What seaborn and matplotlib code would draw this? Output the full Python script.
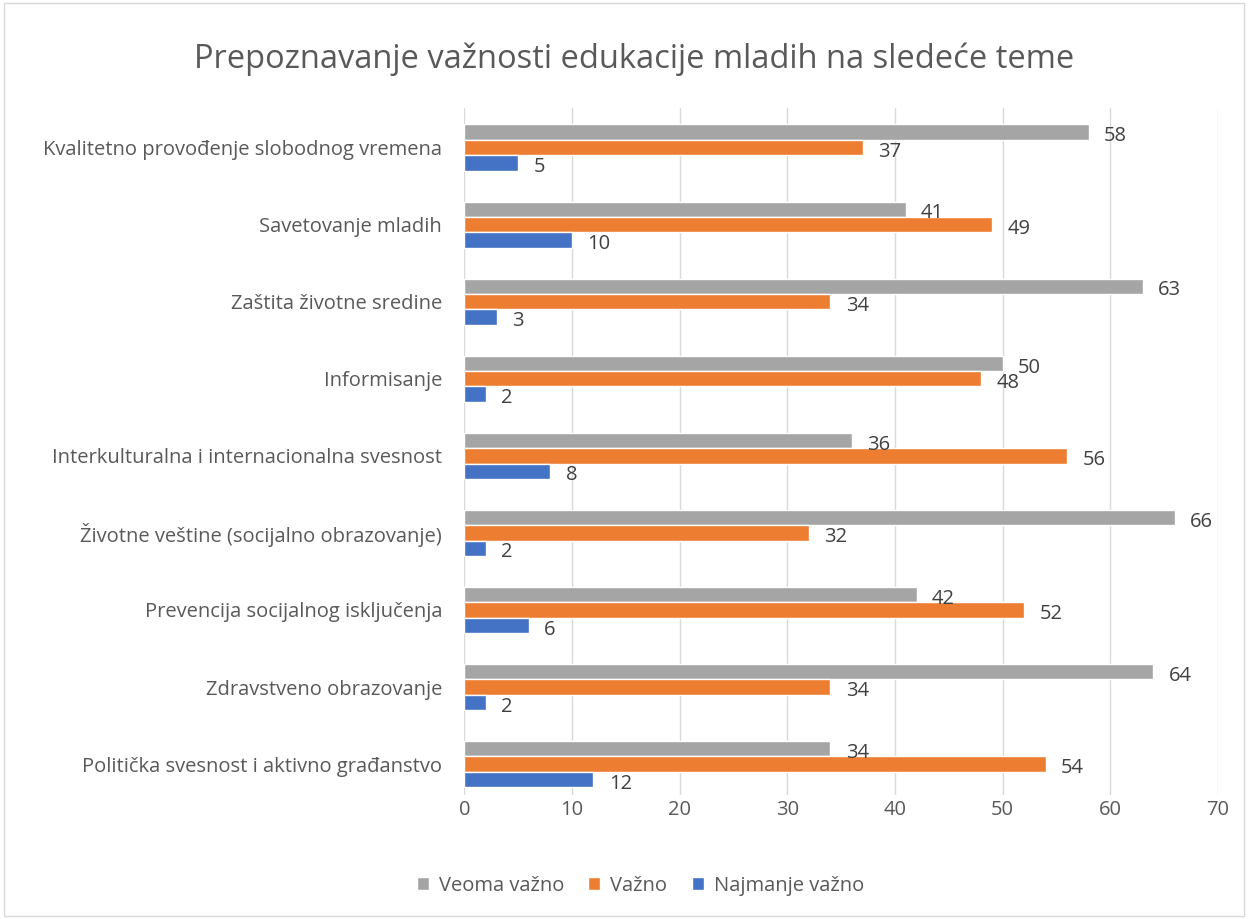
import pandas as pd
import seaborn as sns
import matplotlib.pyplot as plt

categories = [
    "Kvalitetno provođenje slobodnog vremena",
    "Savetovanje mladih",
    "Zaštita životne sredine",
    "Informisanje",
    "Interkulturalna i internacionalna svesnost",
    "Životne veštine (socijalno obrazovanje)",
    "Prevencija socijalnog isključenja",
    "Zdravstveno obrazovanje",
    "Politička svesnost i aktivno građanstvo",
]
veoma_vazno = [58, 41, 63, 50, 36, 66, 42, 64, 34]
vazno = [37, 49, 34, 48, 56, 32, 52, 34, 54]
najmanje_vazno = [5, 10, 3, 2, 8, 2, 6, 2, 12]

series = ["Veoma važno", "Važno", "Najmanje važno"]
colors = ["#A5A5A5", "#ED7D31", "#4472C4"]


def build_df():
    rows = []
    for name, vals in zip(series, [veoma_vazno, vazno, najmanje_vazno]):
        for cat, v in zip(categories, vals):
            rows.append({"Tema": cat, "Grupa": name, "Vrednost": v})
    return pd.DataFrame(rows)


def plot(df):
    sns.set_theme(style="white")
    plt.rcParams["font.family"] = ["Open Sans", "DejaVu Sans"]

    fig = plt.figure(figsize=(12.48, 9.19), dpi=100)
    ax = fig.add_axes([0.372, 0.135, 0.604, 0.748])

    sns.barplot(data=df, y="Tema", x="Vrednost", hue="Grupa",
                hue_order=series, palette=colors, order=categories,
                orient="h", width=0.6, saturation=1, ax=ax, legend=True)

    # Excel puts the labels a touch below the bar centre
    for cont in ax.containers:
        labels = ax.bar_label(cont, padding=11, fontsize=14.5, color="#404040")
        for t in labels:
            t.set_va("center")
            x, y = t.xyann
            t.xyann = (x, y - 3)

    ax.set_xlim(0, 70)
    ax.set_ylim(len(categories) - 0.6, -0.52)
    ax.set_xticks(range(0, 71, 10))
    ax.xaxis.grid(True, color="#D9D9D9", linewidth=1)
    ax.set_axisbelow(True)
    for s in ax.spines.values():
        s.set_visible(False)
    ax.set_xlabel("")
    ax.set_ylabel("")
    ax.tick_params(axis="both", length=0, labelsize=14.5, labelcolor="#595959")
    ax.tick_params(axis="x", pad=4)
    ax.tick_params(axis="y", pad=16)

    handles, labels = ax.get_legend_handles_labels()
    ax.legend_.remove()
    fig.legend(handles, labels, loc="center", bbox_to_anchor=(0.513, 0.036),
               ncol=3, frameon=False, fontsize=14.5, handlelength=0.6,
               handleheight=0.6, columnspacing=1.2, handletextpad=0.5,
               labelcolor="#595959")

    fig.text(0.508, 0.936, "Prepoznavanje važnosti edukacije mladih na sledeće teme",
             ha="center", va="center", fontsize=23.5, color="#595959")

    fig.patches.append(plt.Rectangle((0.003, 0.003), 0.994, 0.994,
                                     transform=fig.transFigure, fill=False,
                                     edgecolor="#D9D9D9", linewidth=1))
    fig.savefig("out.png", dpi=100)


def main():
    df = build_df()
    plot(df)


if __name__ == "__main__":
    main()
